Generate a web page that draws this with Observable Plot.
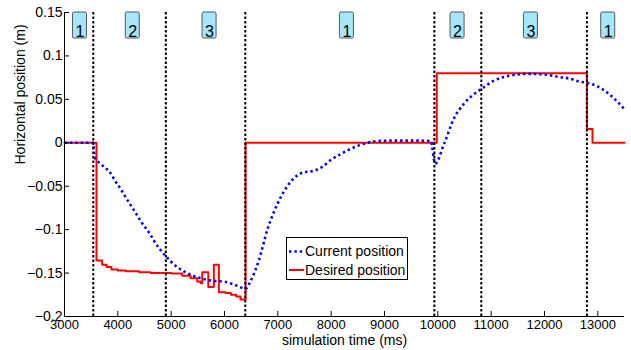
<!DOCTYPE html>
<html>
<head>
<meta charset="utf-8">
<script src="https://cdn.jsdelivr.net/npm/d3@7"></script>
<script src="https://cdn.jsdelivr.net/npm/@observablehq/plot@0.6"></script>
<style>
  body { margin: 0; background: white; }
  #wrap { position: relative; width: 631px; height: 350px; font-family: "Liberation Sans", Arial, Helvetica, sans-serif; }
  #legend { position: absolute; left: 286px; top: 237px; }
</style>
</head>
<body>
<div id="wrap"></div>
<script>
// ---- data ----
const currentTime = [3000, 3300, 3540, 3560, 3675, 3769, 3863, 3950, 4051, 4170, 4295, 4450, 4613, 4675, 4863, 5113, 5332, 5552, 5800, 6000, 6210, 6396, 6490, 6640, 6809, 6996, 7240, 7484, 7615, 7728, 7850, 7990, 8180, 8366, 8520, 8680, 8866, 9200, 9600, 9867, 9950, 10116, 10303, 10490, 10677, 10817, 11054, 11367, 11680, 11992, 12305, 12493, 12618, 12793, 12994, 13243, 13493];
const currentValue = [0, 0, 0, -0.016, -0.024, -0.029, -0.035, -0.044, -0.053, -0.065, -0.077, -0.092, -0.106, -0.1125, -0.128, -0.143, -0.151, -0.156, -0.159, -0.160, -0.164, -0.168, -0.159, -0.136, -0.099, -0.07, -0.045, -0.034, -0.033, -0.031, -0.027, -0.02, -0.013, -0.007, -0.003, 0.0, 0.002, 0.0025, 0.0025, 0.002, -0.024, -0.0015, 0.028, 0.045, 0.056, 0.062, 0.0717, 0.0775, 0.0794, 0.0786, 0.0755, 0.0737, 0.071, 0.069, 0.065, 0.0545, 0.039];

const desiredTime = [3000, 3600, 3705, 3790, 3880, 4000, 4150, 4400, 4613, 5000, 5208, 5364, 5489, 5552, 5583, 5696, 5800, 5894, 6020, 6120, 6220, 6300, 6395, 9980, 12795, 12900, 13500];
const desiredValue = [0, -0.1355, -0.1405, -0.143, -0.146, -0.147, -0.148, -0.149, -0.150, -0.1505, -0.153, -0.156, -0.1597, -0.1617, -0.149, -0.166, -0.1405, -0.172, -0.173, -0.175, -0.177, -0.1805, 0, 0.08, 0.016, 0, 0];

const phaseBoundaries = [3540, 4900, 6390, 9935, 10815, 12795];
const phaseLabelTimes = [3290, 4280, 5720, 8295, 10370, 11745, 13195];
const phaseLabels = ["1", "2", "3", "1", "2", "3", "1"];

const xTicks = [3000, 4000, 5000, 6000, 7000, 8000, 9000, 10000, 11000, 12000, 13000];
const xTickLabels = ["3000", "4000", "5000", "6000", "7000", "8000", "9000", "10000", "11000", "12000", "13000"];
const yTicks = [-0.2, -0.15, -0.1, -0.05, 0, 0.05, 0.1, 0.15];
const yTickLabels = ["\u22120.2", "\u22120.15", "\u22120.1", "\u22120.05", "0", "0.05", "0.1", "0.15"];

const xLabel = "simulation time (ms)";
const yLabel = "Horizontal position (m)";
const seriesNames = ["Current position", "Desired position"];

// ---- build tables ----
const current = currentTime.map((t, i) => ({t, v: currentValue[i]}));
const desired = desiredTime.map((t, i) => ({t, v: desiredValue[i]}));
const phases = phaseLabelTimes.map((t, i) => ({t, label: phaseLabels[i]}));

const font = "'Liberation Sans', Arial, Helvetica, sans-serif";
const blue = "#0000ff";
const red = "#ff0000";

const chart = Plot.plot({
  width: 631,
  height: 350,
  marginLeft: 64,
  marginRight: 7,
  marginTop: 12,
  marginBottom: 34,
  style: {fontFamily: font, fontSize: "14px", background: "white", color: "black", overflow: "visible"},
  x: {domain: [3000, 13500]},
  y: {domain: [-0.2, 0.15]},
  marks: [
    Plot.line(desired, {x: "t", y: "v", stroke: red, strokeWidth: 2, curve: "step-after"}),
    Plot.line(current, {x: "t", y: "v", stroke: blue, strokeWidth: 2.6, strokeDasharray: "2.4,3", strokeLinecap: "butt", curve: "monotone-x"}),
    Plot.ruleX(phaseBoundaries, {stroke: "black", strokeWidth: 2, strokeDasharray: "2.5,2"}),
    Plot.rect(phases, {x1: "t", x2: "t", insetLeft: -7, insetRight: -7, insetTop: 0, insetBottom: 278, fill: "#a6e6fa", stroke: "#555", strokeWidth: 1, rx: 1.5}),
    Plot.text(phases, {x: "t", text: "label", frameAnchor: "top", dy: 13, fontSize: 16, fill: "black"}),
    Plot.ruleX([3000], {stroke: "black", strokeWidth: 1}),
    Plot.ruleY([-0.2], {stroke: "black", strokeWidth: 1}),
    Plot.axisX(xTicks, {tickSize: -5, tickPadding: 8, tickFormat: d => xTickLabels[xTicks.indexOf(d)], fontSize: 13, label: null}),
    Plot.axisY(yTicks, {tickSize: -5, tickPadding: 7, tickFormat: d => yTickLabels[yTicks.indexOf(d)], fontSize: 14, label: null}),
    Plot.text([xLabel], {frameAnchor: "bottom", dy: 28, lineAnchor: "bottom", fontSize: 14}),
    Plot.text([yLabel], {frameAnchor: "left", dx: -40, rotate: -90, lineAnchor: "bottom", fontSize: 14})
  ]
});

const wrap = document.getElementById("wrap");
wrap.appendChild(chart);

// legend
const ns = "http://www.w3.org/2000/svg";
const leg = document.createElementNS(ns, "svg");
leg.setAttribute("id", "legend");
leg.setAttribute("width", 123);
leg.setAttribute("height", 44);
leg.style.fontFamily = font;
const box = document.createElementNS(ns, "rect");
box.setAttribute("x", 0.5); box.setAttribute("y", 0.5);
box.setAttribute("width", 121); box.setAttribute("height", 42);
box.setAttribute("fill", "white"); box.setAttribute("stroke", "black"); box.setAttribute("stroke-width", 1);
leg.appendChild(box);
const styles = [
  {stroke: blue, width: 2.6, dash: "2.4,3"},
  {stroke: red, width: 2, dash: null}
];
seriesNames.forEach((name, i) => {
  const y = 14.5 + i * 18.5;
  const ln = document.createElementNS(ns, "line");
  ln.setAttribute("x1", 3); ln.setAttribute("x2", 18);
  ln.setAttribute("y1", y); ln.setAttribute("y2", y);
  ln.setAttribute("stroke", styles[i].stroke);
  ln.setAttribute("stroke-width", styles[i].width);
  if (styles[i].dash) ln.setAttribute("stroke-dasharray", styles[i].dash);
  leg.appendChild(ln);
  const tx = document.createElementNS(ns, "text");
  tx.setAttribute("x", 19); tx.setAttribute("y", y);
  tx.setAttribute("dy", "0.35em");
  tx.setAttribute("font-size", 14);
  tx.textContent = name;
  leg.appendChild(tx);
});
wrap.appendChild(leg);
</script>
</body>
</html>
